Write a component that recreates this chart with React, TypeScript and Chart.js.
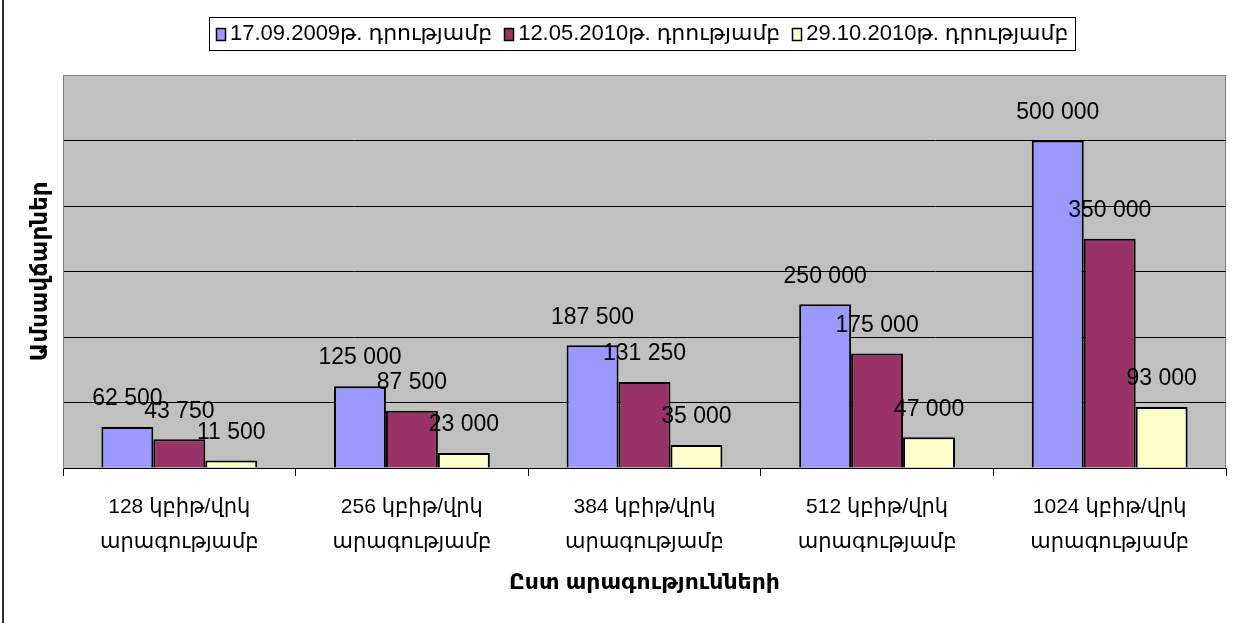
import React, { useEffect, useRef } from 'react';
import { Chart, registerables } from 'chart.js';

Chart.register(...registerables);

// ---- data ----
const categories: string[][] = [
  ['128 կբիթ/վրկ', 'արագությամբ'],
  ['256 կբիթ/վրկ', 'արագությամբ'],
  ['384 կբիթ/վրկ', 'արագությամբ'],
  ['512 կբիթ/վրկ', 'արագությամբ'],
  ['1024 կբիթ/վրկ', 'արագությամբ'],
];
const seriesNames = ['17.09.2009թ. դրությամբ', '12.05.2010թ. դրությամբ', '29.10.2010թ. դրությամբ'];
const values2009Sep = [62500, 125000, 187500, 250000, 500000];
const values2010May = [43750, 87500, 131250, 175000, 350000];
const values2010Oct = [11500, 23000, 35000, 47000, 93000];
const seriesColors = ['#9999FF', '#993366', '#FFFFCC'];
const yAxisTitle = 'Ամսավճարներ';
const xAxisTitle = 'Ըստ արագությունների';
const yMin = 0;
const yMax = 600000;
const yStep = 100000;

const FONT = "'Liberation Sans', Arial, 'DejaVu Sans', sans-serif";

function fmt(v: number): string {
  return String(v).replace(/\B(?=(\d{3})+(?!\d))/g, ' ');
}

const backgroundPlugin = {
  id: 'bgPlot',
  beforeDraw(chart: any) {
    const { ctx, chartArea, width, height } = chart;
    ctx.save();
    ctx.fillStyle = '#FFFFFF';
    ctx.fillRect(0, 0, width, height);
    ctx.fillStyle = '#333333';
    ctx.fillRect(2, 0, 2, height);
    ctx.fillStyle = '#C0C0C0';
    ctx.fillRect(chartArea.left, chartArea.top, chartArea.right - chartArea.left, chartArea.bottom - chartArea.top);
    ctx.strokeStyle = '#808080';
    ctx.lineWidth = 1;
    ctx.strokeRect(Math.round(chartArea.left) + 0.5, Math.round(chartArea.top) + 0.5,
      Math.round(chartArea.right - chartArea.left) - 1, Math.round(chartArea.bottom - chartArea.top));
    ctx.restore();
  },
};

const dataLabelPlugin = {
  id: 'barValues',
  afterDatasetsDraw(chart: any) {
    const { ctx } = chart;
    ctx.save();
    ctx.font = `23px ${FONT}`;
    ctx.fillStyle = '#000000';
    ctx.textAlign = 'center';
    ctx.textBaseline = 'middle';
    chart.data.datasets.forEach((ds: any, i: number) => {
      const meta = chart.getDatasetMeta(i);
      meta.data.forEach((bar: any, j: number) => {
        ctx.fillText(fmt(ds.data[j]), bar.x, bar.y - 28);
      });
    });
    ctx.restore();
  },
};

const legendPlugin = {
  id: 'boxLegend',
  afterDraw(chart: any) {
    const { ctx, chartArea } = chart;
    ctx.save();
    ctx.font = `22px ${FONT}`;
    const sq = 11;
    const gapText = 3;
    const gapItem = 12;
    const pad = 7;
    const items = chart.data.datasets.map((ds: any) => ({
      label: ds.label,
      color: ds.backgroundColor,
      w: ctx.measureText(ds.label).width,
    }));
    let total = 0;
    items.forEach((it: any, i: number) => {
      total += sq + gapText + it.w + (i < items.length - 1 ? gapItem : 0);
    });
    const boxW = total + pad * 2;
    const cx = (chartArea.left + chartArea.right) / 2 - 2;
    const boxL = Math.round(cx - boxW / 2);
    const boxT = 17;
    const boxH = 33;
    ctx.strokeStyle = '#000000';
    ctx.lineWidth = 1;
    ctx.strokeRect(boxL + 0.5, boxT + 0.5, Math.round(boxW), boxH);
    let x = boxL + pad;
    const cy = boxT + boxH / 2 + 0.5;
    items.forEach((it: any) => {
      ctx.fillStyle = it.color;
      ctx.fillRect(Math.round(x), Math.round(cy - 6), sq - 1, 12);
      ctx.strokeStyle = '#000000';
      ctx.lineWidth = 1.5;
      ctx.strokeRect(Math.round(x) + 0.5, Math.round(cy - 6) + 0.5, sq - 2, 12);
      x += sq + gapText;
      ctx.fillStyle = '#000000';
      ctx.textAlign = 'left';
      ctx.textBaseline = 'middle';
      ctx.fillText(it.label, x, cy);
      x += it.w + gapItem;
    });
    ctx.restore();
  },
};

export default function App() {
  const canvasRef = useRef<HTMLCanvasElement | null>(null);

  useEffect(() => {
    if (!canvasRef.current) return;
    const allSeries = [values2009Sep, values2010May, values2010Oct];
    const chart = new Chart(canvasRef.current, {
      type: 'bar',
      data: {
        labels: categories,
        datasets: allSeries.map((vals, i) => ({
          label: seriesNames[i],
          data: vals,
          backgroundColor: seriesColors[i],
          borderColor: '#000000',
          borderWidth: 2,
          categoryPercentage: 0.67,
          barPercentage: 1,
        })),
      },
      options: {
        responsive: false,
        animation: false,
        devicePixelRatio: 1,
        layout: { padding: { top: 75, left: 22, right: 13, bottom: 0 } },
        plugins: {
          legend: { display: false },
          tooltip: { enabled: false },
          title: { display: false },
        },
        scales: {
          x: {
            offset: true,
            afterFit: (s: any) => { s.height = 155; },
            grid: {
              display: true,
              offset: true,
              drawOnChartArea: false,
              drawTicks: true,
              tickLength: 8,
              color: '#000000',
              lineWidth: 1,
            },
            border: { display: true, color: '#000000', width: 1 },
            ticks: {
              color: '#000000',
              padding: 14,
              maxRotation: 0,
              autoSkip: false,
              font: { family: FONT, size: 21, lineHeight: 1.65 },
            },
            title: {
              display: true,
              text: xAxisTitle,
              color: '#000000',
              font: { family: FONT, size: 22, weight: 'bold', lineHeight: 1.2 },
              padding: { top: 0, bottom: 27 },
            },
          },
          y: {
            min: yMin,
            max: yMax,
            afterFit: (s: any) => { s.width = 41; },
            ticks: { display: false, stepSize: yStep },
            grid: {
              drawTicks: false,
              tickLength: 0,
              color: (c: any) => (c.tick && c.tick.value === yMax ? '#808080' : '#000000'),
              lineWidth: 1,
            },
            border: { display: true, color: '#808080', width: 1 },
            title: {
              display: true,
              text: yAxisTitle,
              color: '#000000',
              font: { family: FONT, size: 23, weight: 'bold', lineHeight: 1.2 },
              padding: { top: 5, bottom: 8 },
            },
          },
        },
      },
      plugins: [backgroundPlugin, dataLabelPlugin, legendPlugin],
    } as any);
    return () => chart.destroy();
  }, []);

  return (
    <div style={{ position: 'fixed', left: 0, top: 0, width: 1239, height: 623, background: '#fff' }}>
      <canvas ref={canvasRef} width={1239} height={623} style={{ display: 'block' }} />
    </div>
  );
}
